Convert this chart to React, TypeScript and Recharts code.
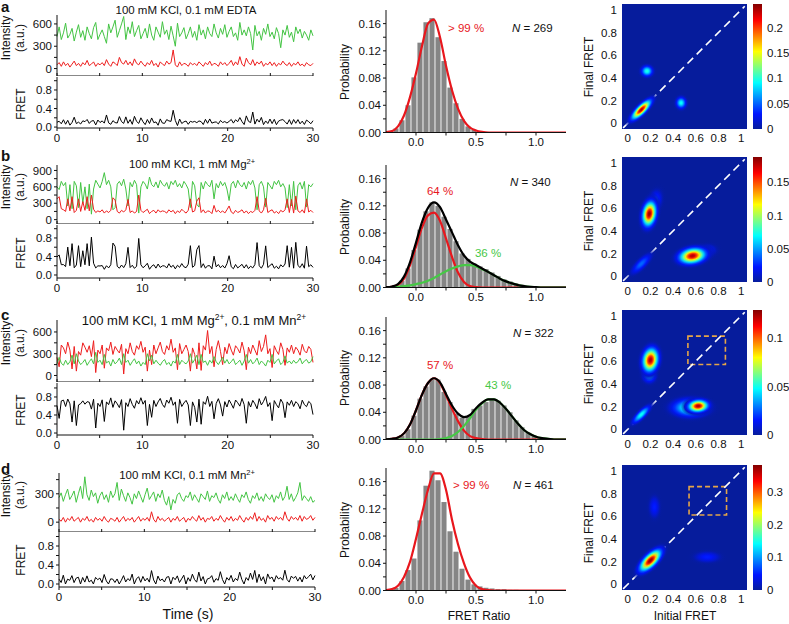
import React from 'react';
import {
  LineChart, Line, XAxis, YAxis, ComposedChart, Bar, ScatterChart, Scatter,
  CartesianGrid, ReferenceArea, ReferenceLine,
} from 'recharts';

const FONT = '"Liberation Sans", Arial, Helvetica, sans-serif';
const INK = '#111';
const GREEN = '#43c443';
const RED = '#ee1d1d';
const FIT_RED = '#e8171d';
const FIT_GREEN = '#46c846';
const BAR_GRAY = '#858585';
const PAD = 8;
const FPAD = 2;

// ---------- smFRET time traces (a.u.), 120 frames over 30 s ----------
const FRAME_S = 30 / 119;

const GREEN_A = [
  430, 560, 390, 480, 610, 410, 460, 540, 370, 490,
  590, 420, 510, 380, 560, 470, 400, 550, 620, 390,
  460, 520, 430, 340, 600, 480, 560, 650, 420, 510,
  600, 700, 390, 560, 470, 630, 430, 510, 580, 400,
  470, 540, 410, 600, 450, 380, 560, 490, 420, 630,
  460, 520, 390, 570, 440, 300, 610, 430, 480, 550,
  400, 470, 560, 420, 500, 380, 590, 450, 520, 400,
  560, 470, 430, 600, 480, 410, 540, 460, 590, 420,
  500, 560, 430, 480, 380, 620, 450, 520, 440, 560,
  470, 250, 580, 440, 500, 380, 540, 460, 600, 430,
  490, 400, 550, 470, 280, 520, 450, 580, 420, 490,
  360, 560, 470, 530, 410, 500, 450, 380, 520, 440,
];
const RED_A = [
  50, 80, 30, 90, 40, 70, 20, 60, 100, 40,
  70, 30, 80, 50, 110, 40, 60, 90, 30, 70,
  50, 80, 40, 120, 60, 30, 90, 70, 40, 150,
  80, 60, 110, 50, 90, 40, 130, 70, 50, 100,
  60, 30, 80, 50, 110, 40, 70, 20, 90, 60,
  40, 100, 60, 80, 250, 50, 20, 90, 40, 70,
  60, 30, 80, 50, 70, 40, 90, 60, 30, 80,
  50, 100, 40, 70, 60, 30, 90, 50, 80, 40,
  70, 110, 40, 90, 50, 160, 60, 30, 140, 80,
  50, 120, 40, 90, 60, 100, 30, 70, 50, 90,
  40, 80, 30, 70, 50, 100, 60, 40, 80, 30,
  70, 50, 90, 40, 60, 30, 80, 50, 40, 70,
];

const GREEN_B = [
  600, 550, 700, 620, 680, 250, 640, 200, 700, 620,
  220, 680, 300, 600, 200, 650, 100, 560, 720, 650,
  580, 700, 860, 640, 720, 600, 180, 220, 650, 700,
  620, 740, 560, 250, 680, 600, 720, 640, 120, 600,
  700, 650, 560, 780, 640, 600, 690, 580, 720, 650,
  610, 680, 560, 700, 640, 720, 600, 660, 580, 700,
  640, 560, 220, 700, 620, 280, 230, 680, 560, 700,
  640, 600, 720, 380, 660, 580, 700, 620, 680, 560,
  350, 650, 700, 580, 720, 640, 600, 680, 560, 700,
  640, 720, 580, 180, 640, 700, 600, 230, 680, 620,
  560, 700, 640, 720, 600, 660, 580, 220, 640, 250,
  700, 180, 620, 680, 560, 700, 230, 640, 600, 660,
];
const RED_B = [
  380, 420, 200, 180, 150, 380, 160, 420, 130, 170,
  380, 150, 330, 170, 420, 160, 450, 190, 130, 160,
  140, 180, 120, 160, 130, 170, 400, 360, 150, 120,
  170, 140, 180, 370, 130, 160, 120, 150, 450, 170,
  130, 160, 190, 110, 150, 170, 120, 180, 140, 160,
  150, 120, 180, 140, 170, 110, 160, 130, 190, 150,
  120, 170, 380, 140, 160, 340, 400, 130, 180, 120,
  160, 150, 110, 260, 140, 170, 130, 160, 120, 180,
  250, 140, 110, 170, 130, 150, 180, 120, 160, 110,
  150, 130, 170, 420, 160, 120, 180, 390, 130, 160,
  180, 120, 150, 110, 170, 140, 180, 380, 130, 370,
  120, 430, 160, 130, 180, 120, 380, 140, 170, 130,
];

const GREEN_C = [
  160, 250, 170, 140, 210, 150, 190, 280, 160, 300,
  200, 150, 180, 220, 140, 190, 230, 160, 320, 180,
  210, 150, 290, 170, 200, 130, 220, 160, 190, 240,
  150, 300, 180, 210, 140, 190, 230, 160, 200, 130,
  180, 150, 300, 200, 280, 160, 210, 170, 140, 190,
  220, 150, 180, 130, 200, 170, 290, 150, 210, 180,
  160, 200, 300, 170, 220, 280, 150, 290, 180, 200,
  140, 210, 170, 260, 190, 150, 200, 250, 170, 220,
  160, 190, 230, 150, 180, 210, 140, 200, 290, 170,
  220, 160, 190, 240, 150, 200, 170, 130, 210, 180,
  290, 160, 200, 230, 150, 180, 270, 170, 200, 160,
  210, 170, 190, 240, 160, 200, 220, 170, 190, 260,
];
const RED_C = [
  250, 120, 420, 380, 300, 460, 350, 90, 400, 60,
  330, 280, 450, 390, 320, 410, 260, 480, 40, 350,
  300, 420, 100, 380, 340, 460, 290, 400, 350, 310,
  430, 20, 370, 300, 450, 330, 280, 410, 360, 470,
  320, 390, 60, 350, 150, 420, 300, 380, 460, 330,
  290, 410, 350, 500, 320, 380, 80, 440, 300, 360,
  420, 330, 60, 380, 290, 90, 450, 70, 410, 350,
  620, 300, 400, 120, 360, 480, 330, 150, 390, 300,
  440, 350, 280, 410, 370, 310, 460, 340, 80, 390,
  300, 420, 350, 280, 480, 330, 400, 560, 300, 370,
  110, 410, 340, 290, 450, 360, 140, 380, 320, 420,
  300, 390, 350, 280, 430, 340, 310, 400, 360, 180,
];

const GREEN_D = [
  260, 310, 220, 290, 350, 240, 280, 330, 210, 300,
  380, 250, 480, 290, 230, 340, 270, 310, 200, 280,
  320, 240, 290, 210, 330, 260, 300, 420, 230, 350,
  280, 220, 310, 260, 190, 300, 250, 330, 270, 210,
  290, 360, 240, 280, 320, 220, 300, 260, 340, 230,
  180, 270, 130, 240, 200, 290, 310, 250, 220, 280,
  260, 320, 230, 290, 250, 210, 300, 270, 240, 330,
  220, 280, 260, 310, 240, 200, 290, 250, 320, 230,
  270, 230, 300, 250, 210, 290, 260, 320, 240, 200,
  280, 250, 310, 230, 270, 220, 300, 260, 240, 290,
  210, 280, 250, 320, 230, 270, 380, 240, 300, 220,
  260, 310, 420, 230, 280, 250, 220, 270, 210, 230,
];
const RED_D = [
  30, 10, 50, 0, 40, 20, 60, 10, 30, 50,
  0, 40, 20, 60, 10, 30, 0, 50, 20, 40,
  10, 60, 20, 0, 40, 30, 10, 50, 0, 30,
  60, 10, 40, 20, 50, 0, 30, 60, 10, 40,
  20, 50, 10, 110, 30, 0, 60, 20, 40, 10,
  30, 50, 0, 40, 20, 60, 10, 30, 50, 0,
  40, 20, 60, 30, 10, 70, 20, 50, 0, 40,
  30, 60, 10, 40, 20, 70, 30, 0, 50, 20,
  60, 10, 40, 20, 70, 30, 0, 50, 20, 60,
  30, 100, 10, 60, 20, 40, 0, 70, 30, 50,
  10, 60, 30, 50, 20, 110, 40, 10, 60, 30,
  50, 20, 70, 10, 60, 30, 40, 70, 20, 50,
];

const TIME_TICKS = [0, 5, 10, 15, 20, 25, 30];
const TIME_LABELS = [0, 10, 20, 30];
const FRET_TICKS = [0, 0.2, 0.4, 0.6, 0.8, 1.0];
const FRET_LABELS = [0, 0.4, 0.8];

// ---------- FRET histograms ----------
const BIN_CENTERS = [
  -0.165, -0.115, -0.065, -0.015, 0.035, 0.085, 0.135, 0.185, 0.235, 0.285,
  0.335, 0.385, 0.435, 0.485, 0.535, 0.585, 0.635, 0.685, 0.735, 0.785,
  0.835, 0.885, 0.935, 0.985, 1.035, 1.085, 1.135, 1.185,
];
const HIST_A = [
  0.006, 0.018, 0.04, 0.081, 0.132, 0.162, 0.168, 0.14, 0.105, 0.066,
  0.043, 0.02, 0.009, 0.004, 0.002, 0.001, 0, 0, 0, 0,
  0, 0, 0, 0, 0, 0, 0, 0,
];
const HIST_B = [
  0.003, 0.01, 0.028, 0.055, 0.085, 0.112, 0.125, 0.12, 0.104, 0.086,
  0.068, 0.05, 0.042, 0.035, 0.031, 0.027, 0.022, 0.017, 0.012, 0.009,
  0.006, 0.004, 0.002, 0.001, 0, 0, 0, 0,
];
const HIST_C = [
  0.002, 0.006, 0.015, 0.035, 0.06, 0.078, 0.088, 0.088, 0.07, 0.055,
  0.038, 0.032, 0.034, 0.045, 0.05, 0.055, 0.058, 0.057, 0.05, 0.04,
  0.028, 0.018, 0.01, 0.006, 0.003, 0.001, 0, 0,
];
const HIST_D = [
  0.004, 0.014, 0.03, 0.047, 0.103, 0.154, 0.176, 0.162, 0.13, 0.087,
  0.057, 0.032, 0.016, 0.009, 0.006, 0.004, 0.003, 0.002, 0.002, 0.001,
  0.001, 0, 0, 0, 0, 0, 0, 0,
];

const FIT_X = [
  -0.25, -0.2, -0.15, -0.1, -0.05, 0, 0.05, 0.1, 0.15, 0.2,
  0.25, 0.3, 0.35, 0.4, 0.45, 0.5, 0.55, 0.6, 0.65, 0.7,
  0.75, 0.8, 0.85, 0.9, 0.95, 1.0, 1.05, 1.1, 1.15, 1.2, 1.25,
];
const FIT_A_RED = [
  0.0005, 0.002, 0.009, 0.025, 0.052, 0.087, 0.127, 0.16, 0.166, 0.14,
  0.098, 0.062, 0.035, 0.017, 0.007, 0.003, 0.001, 0, 0, 0,
  0, 0, 0, 0, 0, 0, 0, 0, 0, 0, 0,
];
const FIT_B_RED = [
  0.0003, 0.001, 0.004, 0.013, 0.033, 0.06, 0.088, 0.106, 0.11, 0.098,
  0.072, 0.045, 0.022, 0.008, 0.002, 0.0005, 0, 0, 0, 0,
  0, 0, 0, 0, 0, 0, 0, 0, 0, 0, 0,
];
const FIT_B_GREEN = [
  0.0002, 0.0005, 0.001, 0.002, 0.003, 0.005, 0.007, 0.01, 0.014, 0.019,
  0.024, 0.028, 0.031, 0.033, 0.033, 0.031, 0.027, 0.023, 0.018, 0.013,
  0.009, 0.006, 0.0035, 0.002, 0.001, 0.0005, 0, 0, 0, 0, 0,
];
const FIT_B_TOTAL = [
  0.0005, 0.0015, 0.005, 0.016, 0.037, 0.066, 0.096, 0.117, 0.125, 0.118,
  0.1, 0.081, 0.062, 0.047, 0.038, 0.033, 0.028, 0.023, 0.018, 0.013,
  0.009, 0.006, 0.0035, 0.002, 0.001, 0.0005, 0, 0, 0, 0, 0,
];
const FIT_C_RED = [
  0.0003, 0.001, 0.003, 0.009, 0.022, 0.043, 0.066, 0.083, 0.09, 0.083,
  0.065, 0.045, 0.027, 0.013, 0.005, 0.002, 0.0005, 0, 0, 0,
  0, 0, 0, 0, 0, 0, 0, 0, 0, 0, 0,
];
const FIT_C_GREEN = [
  0, 0, 0, 0, 0, 0, 0, 0, 0, 0.0005,
  0.002, 0.005, 0.011, 0.02, 0.031, 0.044, 0.053, 0.059, 0.059, 0.054,
  0.045, 0.034, 0.023, 0.014, 0.008, 0.004, 0.002, 0.001, 0, 0, 0,
];
const FIT_C_TOTAL = [
  0.0003, 0.001, 0.003, 0.009, 0.022, 0.043, 0.066, 0.083, 0.09, 0.084,
  0.067, 0.05, 0.038, 0.033, 0.036, 0.046, 0.054, 0.059, 0.059, 0.054,
  0.045, 0.034, 0.023, 0.014, 0.008, 0.004, 0.002, 0.001, 0, 0, 0,
];
const FIT_D_RED = [
  0.0005, 0.002, 0.007, 0.02, 0.042, 0.076, 0.113, 0.148, 0.172, 0.172,
  0.148, 0.104, 0.068, 0.04, 0.019, 0.007, 0.002, 0.0005, 0, 0,
  0, 0, 0, 0, 0, 0, 0, 0, 0, 0, 0,
];

const PROB_TICKS = [0, 0.02, 0.04, 0.06, 0.08, 0.1, 0.12, 0.14, 0.16];
const PROB_LABELS = [0, 0.04, 0.08, 0.12, 0.16];
const RATIO_TICKS = [0, 0.25, 0.5, 0.75, 1.0];
const RATIO_LABELS = [0, 0.5, 1.0];

// ---------- transition density plots (initial vs final FRET) ----------
const TDP_A = [
  { x: 0.17, y: 0.46, sx: 0.03, sy: 0.028, angle: 0, peak: 0.1 },
  { x: 0.47, y: 0.18, sx: 0.026, sy: 0.03, angle: 0, peak: 0.095 },
  { x: 0.12, y: 0.12, sx: 0.065, sy: 0.022, angle: 45, peak: 0.235 },
];
const TDP_B = [
  { x: 0.12, y: 0.11, sx: 0.07, sy: 0.025, angle: 45, peak: 0.04 },
  { x: 0.24, y: 0.66, sx: 0.035, sy: 0.06, angle: -15, peak: 0.035 },
  { x: 0.68, y: 0.22, sx: 0.06, sy: 0.035, angle: 10, peak: 0.03 },
  { x: 0.19, y: 0.55, sx: 0.034, sy: 0.063, angle: -10, peak: 0.185 },
  { x: 0.57, y: 0.18, sx: 0.067, sy: 0.038, angle: 10, peak: 0.18 },
];
const TDP_C = [
  { x: 0.12, y: 0.13, sx: 0.06, sy: 0.02, angle: 45, peak: 0.05 },
  { x: 0.19, y: 0.48, sx: 0.035, sy: 0.04, angle: 0, peak: 0.04 },
  { x: 0.55, y: 0.19, sx: 0.09, sy: 0.045, angle: 0, peak: 0.06 },
  { x: 0.2, y: 0.61, sx: 0.039, sy: 0.06, angle: -10, peak: 0.125 },
  { x: 0.62, y: 0.205, sx: 0.05, sy: 0.03, angle: 5, peak: 0.125 },
];
const TDP_D = [
  { x: 0.235, y: 0.68, sx: 0.03, sy: 0.06, angle: 0, peak: 0.05 },
  { x: 0.7, y: 0.24, sx: 0.07, sy: 0.03, angle: 0, peak: 0.05 },
  { x: 0.2, y: 0.21, sx: 0.07, sy: 0.03, angle: 45, peak: 0.38 },
];
const CBAR_MAX = { a: 0.246, b: 0.188, c: 0.129, d: 0.382 };
const CBAR_TICKS = {
  a: [0, 0.05, 0.1, 0.15, 0.2],
  b: [0, 0.05, 0.1, 0.15],
  c: [0, 0.05, 0.1],
  d: [0, 0.1, 0.2, 0.3],
};
const TDP_TICKS = [0, 0.2, 0.4, 0.6, 0.8, 1];
const DIAGONAL = [{ x: -0.04, y: -0.04 }, { x: 1.03, y: 1.03 }];
const BOX_C = { x1: 0.53, x2: 0.86, y1: 0.57, y2: 0.82 };
const BOX_D = { x1: 0.54, x2: 0.87, y1: 0.61, y2: 0.86 };

// jet-like colormap, background at 0
const JET: [number, number[]][] = [
  [0, [6, 28, 156]],
  [0.12, [0, 20, 255]],
  [0.37, [0, 255, 255]],
  [0.62, [255, 255, 0]],
  [0.87, [255, 0, 0]],
  [1, [130, 0, 0]],
];
const HEAT_BG = 'rgb(6,28,156)';
const GRAD_STEPS = [0, 0.1, 0.2, 0.3, 0.4, 0.5, 0.6, 0.7, 0.8, 0.9, 1];

function jet(v: number) {
  const c = Math.max(0, Math.min(1, v));
  for (let i = 1; i < JET.length; i++) {
    if (c <= JET[i][0]) {
      const [p0, c0] = JET[i - 1];
      const [p1, c1] = JET[i];
      const f = (c - p0) / (p1 - p0);
      return `rgb(${c0.map((q, k) => Math.round(q + (c1[k] - q) * f)).join(',')})`;
    }
  }
  return 'rgb(130,0,0)';
}

function tickMaker(majors: number[], fmt: (v: number) => string, side: string, size = 11) {
  return (props: any) => {
    const { x, y, payload } = props;
    const v = payload.value;
    if (!majors.some((m) => Math.abs(m - v) < 1e-9)) return <g />;
    if (side === 'bottom') {
      return (
        <text x={x} y={y} dy="0.78em" textAnchor="middle" fontSize={size} fontFamily={FONT} fill={INK}>
          {fmt(v)}
        </text>
      );
    }
    return (
      <text x={x} y={y} dy="0.36em" textAnchor={side === 'left' ? 'end' : 'start'} fontSize={size} fontFamily={FONT} fill={INK}>
        {fmt(v)}
      </text>
    );
  };
}

const TRACE_ROWS = [
  { key: 'a', green: GREEN_A, red: RED_A, left: 57, iTop: 15, iBot: 71, fTop: 77, fBot: 128,
    iDomain: [-100, 720], iTicks: [0, 150, 300, 450, 600], iMajor: [0, 300, 600], fDomain: [-0.02, 1.08], redFirst: false },
  { key: 'b', green: GREEN_B, red: RED_B, left: 57, iTop: 165, iBot: 219, fTop: 225, fBot: 278,
    iDomain: [-80, 1000], iTicks: [0, 150, 300, 450, 600, 750, 900], iMajor: [0, 300, 600, 900], fDomain: [-0.065, 1.08], redFirst: false },
  { key: 'c', green: GREEN_C, red: RED_C, left: 57, iTop: 320, iBot: 377, fTop: 383, fBot: 435,
    iDomain: [-90, 765], iTicks: [0, 150, 300, 450, 600], iMajor: [0, 300, 600], fDomain: [-0.044, 1.11], redFirst: true },
  { key: 'd', green: GREEN_D, red: RED_D, left: 59, iTop: 473, iBot: 527, fTop: 532, fBot: 587,
    iDomain: [-104, 520], iTicks: [0, 150, 300, 450], iMajor: [0, 300], fDomain: [-0.063, 1.095], redFirst: false },
];

function TracePanel({ row }: any) {
  const YW = 40;
  const PW = 256;
  const data = row.green.map((g: number, i: number) => {
    const r = row.red[i];
    return { t: i * FRAME_S, g, r, f: r + g > 0 ? r / (r + g) : 0 };
  });
  const gLine = <Line key="g" dataKey="g" stroke={GREEN} strokeWidth={1} dot={false} isAnimationActive={false} />;
  const rLine = <Line key="r" dataKey="r" stroke={RED} strokeWidth={1} dot={false} isAnimationActive={false} />;
  return (
    <>
      <div style={{ position: 'absolute', left: row.left - YW, top: row.iTop - PAD }}>
        <LineChart width={YW + PW + 12} height={row.iBot - row.iTop + PAD + 5} data={data}
          margin={{ top: PAD, right: 12, bottom: 0, left: 0 }}>
          <XAxis type="number" dataKey="t" domain={[0, 30]} ticks={TIME_TICKS} interval={0} height={5} mirror
            tick={() => <g />} tickSize={3} stroke={INK} />
          <YAxis type="number" domain={row.iDomain} ticks={row.iTicks} interval={0} allowDataOverflow width={YW}
            tickSize={3} stroke={INK} tick={tickMaker(row.iMajor, (v) => String(v), 'left', 11.5)} />
          {row.redFirst ? [rLine, gLine] : [gLine, rLine]}
        </LineChart>
      </div>
      <div style={{ position: 'absolute', left: row.left - YW, top: row.fTop - FPAD }}>
        <LineChart width={YW + PW + 12} height={row.fBot - row.fTop + FPAD + 20} data={data}
          margin={{ top: FPAD, right: 12, bottom: 0, left: 0 }}>
          <XAxis type="number" dataKey="t" domain={[0, 30]} ticks={TIME_TICKS} interval={0} height={20}
            tickSize={3} stroke={INK} tick={tickMaker(TIME_LABELS, (v) => String(v), 'bottom', 11.5)} />
          <YAxis type="number" domain={row.fDomain} ticks={FRET_TICKS} interval={0} allowDataOverflow width={YW}
            tickSize={3} stroke={INK} tick={tickMaker(FRET_LABELS, (v) => v.toFixed(1), 'left', 11.5)} />
          <Line dataKey="f" stroke="#000" strokeWidth={1} dot={false} isAnimationActive={false} />
        </LineChart>
      </div>
    </>
  );
}

const HIST_ROWS = [
  { key: 'a', top: 9.5, bars: HIST_A, fits: [{ v: FIT_A_RED, c: FIT_RED }] },
  { key: 'b', top: 165, bars: HIST_B, fits: [{ v: FIT_B_RED, c: FIT_RED }, { v: FIT_B_GREEN, c: FIT_GREEN }, { v: FIT_B_TOTAL, c: '#000' }] },
  { key: 'c', top: 316.5, bars: HIST_C, fits: [{ v: FIT_C_RED, c: FIT_RED }, { v: FIT_C_GREEN, c: FIT_GREEN }, { v: FIT_C_TOTAL, c: '#000' }] },
  { key: 'd', top: 468, bars: HIST_D, fits: [{ v: FIT_D_RED, c: FIT_RED }] },
];

// one histogram bin: a 0.05-wide gray column centred on its value
function BinShape(props: any) {
  const { x, y, width, height } = props;
  if (!height || height <= 0) return <g />;
  const cx = x + width / 2;
  const w = 5.1;
  return <rect x={cx - w / 2} y={y} width={w} height={height} fill={BAR_GRAY} />;
}

function HistPanel({ row }: any) {
  const YW = 45;
  const PW = 180;
  const PH = 122.5;
  const data = BIN_CENTERS.map((x, i) => ({ x, p: row.bars[i] }));
  return (
    <div style={{ position: 'absolute', left: 386 - YW, top: row.top - PAD }}>
      <ComposedChart width={YW + PW + 4} height={PH + PAD + 22} data={data}
        margin={{ top: PAD, right: 4, bottom: 0, left: 0 }}>
        <XAxis type="number" dataKey="x" domain={[-0.25, 1.25]} ticks={RATIO_TICKS} interval={0} allowDataOverflow height={22}
          tickSize={3} stroke={INK} tick={tickMaker(RATIO_LABELS, (v) => v.toFixed(1), 'bottom', 11.5)} />
        <YAxis type="number" domain={[0, 0.18]} ticks={PROB_TICKS} interval={0} allowDataOverflow width={YW}
          tickSize={3} stroke={INK} tick={tickMaker(PROB_LABELS, (v) => v.toFixed(2), 'left', 11.5)} />
        <Bar dataKey="p" fill={BAR_GRAY} shape={BinShape} isAnimationActive={false} />
        {row.fits.map((f: any, i: number) => (
          <Line key={i} data={FIT_X.map((x, j) => ({ x, v: f.v[j] }))} dataKey="v" type="monotone"
            stroke={f.c} strokeWidth={2.2} dot={false} isAnimationActive={false} />
        ))}
      </ComposedChart>
    </div>
  );
}

const TDP_ROWS = [
  { key: 'a', top: 4, blobs: TDP_A, box: null },
  { key: 'b', top: 157, blobs: TDP_B, box: null },
  { key: 'c', top: 310, blobs: TDP_C, box: BOX_C },
  { key: 'd', top: 465, blobs: TDP_D, box: BOX_D },
];

const TDP_SIZE = 125;
const PX_PER_UNIT = TDP_SIZE / 1.1;

function BlobShape(props: any) {
  const { cx, cy, payload } = props;
  const rx = payload.sx * 3 * PX_PER_UNIT;
  const ry = payload.sy * 3 * PX_PER_UNIT;
  return (
    <ellipse cx={cx} cy={cy} rx={rx} ry={ry} transform={`rotate(${-payload.angle} ${cx} ${cy})`}
      fill={`url(#${payload.gid})`} />
  );
}

function TdpPanel({ row }: any) {
  const YW = 30;
  const cmax = CBAR_MAX[row.key as keyof typeof CBAR_MAX];
  const cticks = CBAR_TICKS[row.key as keyof typeof CBAR_TICKS];
  const blobs = row.blobs.map((b: any, i: number) => ({ ...b, gid: `tdp-${row.key}-${i}` }));
  const fmt = (v: number) => String(v);
  const top = Math.min(PAD, row.top);
  return (
    <>
      <div style={{ position: 'absolute', left: 622 - YW, top: row.top - top }}>
        <ScatterChart width={YW + TDP_SIZE + 4} height={TDP_SIZE + top + 20} margin={{ top, right: 4, bottom: 0, left: 0 }}>
          <CartesianGrid horizontal={false} vertical={false} fill={HEAT_BG} fillOpacity={1} />
          <XAxis type="number" dataKey="x" domain={[-0.05, 1.05]} ticks={TDP_TICKS} interval={0} allowDataOverflow height={20}
            axisLine={false} tickLine={false} tickSize={0} tickMargin={4}
            tick={tickMaker(TDP_TICKS, fmt, 'bottom', 11.5)} />
          <YAxis type="number" dataKey="y" domain={[-0.05, 1.05]} ticks={TDP_TICKS} interval={0} allowDataOverflow width={YW}
            axisLine={false} tickLine={false} tickSize={0} tickMargin={5}
            tick={tickMaker(TDP_TICKS, fmt, 'left', 11.5)} />
          <Scatter data={blobs} shape={BlobShape} isAnimationActive={false} />
          <ReferenceLine segment={DIAGONAL} stroke="#ffffff" strokeWidth={1.6} strokeDasharray="8 5" />
          {row.box && (
            <ReferenceArea x1={row.box.x1} x2={row.box.x2} y1={row.box.y1} y2={row.box.y2}
              fill="none" fillOpacity={0} stroke="#e4a548" strokeWidth={1.6} strokeDasharray="5 3" />
          )}
        </ScatterChart>
      </div>
      <div style={{ position: 'absolute', left: 753, top: row.top - top }}>
        <ComposedChart width={9 + 32} height={TDP_SIZE + top + 8} data={[{ c: 'bar', v: cmax }]}
          margin={{ top, right: 0, bottom: 8, left: 0 }} barCategoryGap={0}>
          <XAxis type="category" dataKey="c" hide />
          <YAxis orientation="right" type="number" domain={[0, cmax]} ticks={cticks} interval={0} width={32}
            axisLine={false} tickLine={false} tickSize={0} tickMargin={5}
            tick={tickMaker(cticks, fmt, 'right', 11.5)} />
          <Bar dataKey="v" fill="url(#jetbar)" isAnimationActive={false} />
        </ComposedChart>
      </div>
    </>
  );
}

function GradientDefs() {
  return (
    <svg width={0} height={0} style={{ position: 'absolute' }}>
      <defs>
        <linearGradient id="jetbar" x1="0" y1="1" x2="0" y2="0">
          {JET.map(([o, c]) => <stop key={o} offset={o} stopColor={`rgb(${c.join(',')})`} />)}
        </linearGradient>
        {TDP_ROWS.flatMap((row) => {
          const cmax = CBAR_MAX[row.key as keyof typeof CBAR_MAX];
          return row.blobs.map((b, i) => (
            <radialGradient key={`${row.key}-${i}`} id={`tdp-${row.key}-${i}`}>
              {GRAD_STEPS.map((t) => {
                const v = (b.peak * Math.exp(-4.5 * t * t)) / cmax;
                return <stop key={t} offset={t} stopColor={jet(v)} stopOpacity={Math.min(1, v / 0.05)} />;
              })}
            </radialGradient>
          ));
        })}
      </defs>
    </svg>
  );
}

function VLabel({ x, y, size = 12, children }: any) {
  return (
    <text transform={`translate(${x},${y}) rotate(-90)`} textAnchor="middle" dominantBaseline="central"
      fontSize={size} fontFamily={FONT} fill={INK}>
      {children}
    </text>
  );
}

function Overlay() {
  const t = { fontFamily: FONT, fill: INK };
  const sup = (s: string, size: number) => <tspan dy={-size * 0.38} fontSize={size * 0.65}>{s}</tspan>;
  const rowsY = [
    { i: 38, f: 104, p: 72, ff: 67 },
    { i: 187, f: 253, p: 227, ff: 221 },
    { i: 343, f: 410, p: 378, ff: 374 },
    { i: 495, f: 560, p: 530, ff: 533 },
  ];
  return (
    <svg width={789} height={624} style={{ position: 'absolute', left: 0, top: 0, pointerEvents: 'none' }}>
      {['a', 'b', 'c', 'd'].map((k, i) => (
        <text key={k} x={1} y={[12, 161, 320, 474][i]} fontSize={15} fontWeight="bold" {...t}>{k}</text>
      ))}
      <text x={186} y={14} textAnchor="middle" fontSize={11.5} {...t}>100 mM KCl, 0.1 mM EDTA</text>
      <text x={192} y={168} textAnchor="middle" fontSize={11.5} {...t}>
        100 mM KCl, 1 mM Mg{sup('2+', 11.5)}
      </text>
      <text x={194} y={325} textAnchor="middle" fontSize={13} {...t}>
        100 mM KCl, 1 mM Mg{sup('2+', 13)}<tspan dy={13 * 0.38}>, 0.1 mM Mn</tspan>{sup('2+', 13)}
      </text>
      <text x={187} y={479} textAnchor="middle" fontSize={11.5} {...t}>
        100 mM KCl, 0.1 mM Mn{sup('2+', 11.5)}
      </text>

      {rowsY.map((r, i) => (
        <g key={i}>
          <VLabel x={6} y={r.i}>Intensity</VLabel>
          <VLabel x={20} y={r.i}>(a.u.)</VLabel>
          <VLabel x={21} y={r.f}>FRET</VLabel>
          <VLabel x={345} y={r.p}>Probability</VLabel>
          <VLabel x={589} y={r.ff}>Final FRET</VLabel>
        </g>
      ))}

      <text x={448} y={32} fontSize={11.5} fontFamily={FONT} fill={FIT_RED}>&gt; 99 %</text>
      <text x={512} y={32} fontSize={11.5} {...t}><tspan fontStyle="italic">N</tspan> = 269</text>

      <text x={440} y={195} textAnchor="middle" fontSize={11.5} fontFamily={FONT} fill={FIT_RED}>64 %</text>
      <text x={488} y={257} textAnchor="middle" fontSize={11.5} fontFamily={FONT} fill={FIT_GREEN}>36 %</text>
      <text x={510} y={186} fontSize={11.5} {...t}><tspan fontStyle="italic">N</tspan> = 340</text>

      <text x={440} y={369} textAnchor="middle" fontSize={11.5} fontFamily={FONT} fill={FIT_RED}>57 %</text>
      <text x={498} y={389} textAnchor="middle" fontSize={11.5} fontFamily={FONT} fill={FIT_GREEN}>43 %</text>
      <text x={513} y={337} fontSize={11.5} {...t}><tspan fontStyle="italic">N</tspan> = 322</text>

      <text x={453} y={489} fontSize={11.5} fontFamily={FONT} fill={FIT_RED}>&gt; 99 %</text>
      <text x={513} y={489} fontSize={11.5} {...t}><tspan fontStyle="italic">N</tspan> = 461</text>

      <text x={188} y={619} textAnchor="middle" fontSize={14} {...t}>Time (s)</text>
      <text x={479} y={620} textAnchor="middle" fontSize={12} {...t}>FRET Ratio</text>
      <text x={685} y={620} textAnchor="middle" fontSize={12} {...t}>Initial FRET</text>
    </svg>
  );
}

export default function App() {
  return (
    <div style={{ position: 'absolute', left: 0, top: 0, width: 789, height: 624, background: '#fff', fontFamily: FONT }}>
      <GradientDefs />
      {TRACE_ROWS.map((row) => <TracePanel key={row.key} row={row} />)}
      {HIST_ROWS.map((row) => <HistPanel key={row.key} row={row} />)}
      {TDP_ROWS.map((row) => <TdpPanel key={row.key} row={row} />)}
      <Overlay />
    </div>
  );
}
